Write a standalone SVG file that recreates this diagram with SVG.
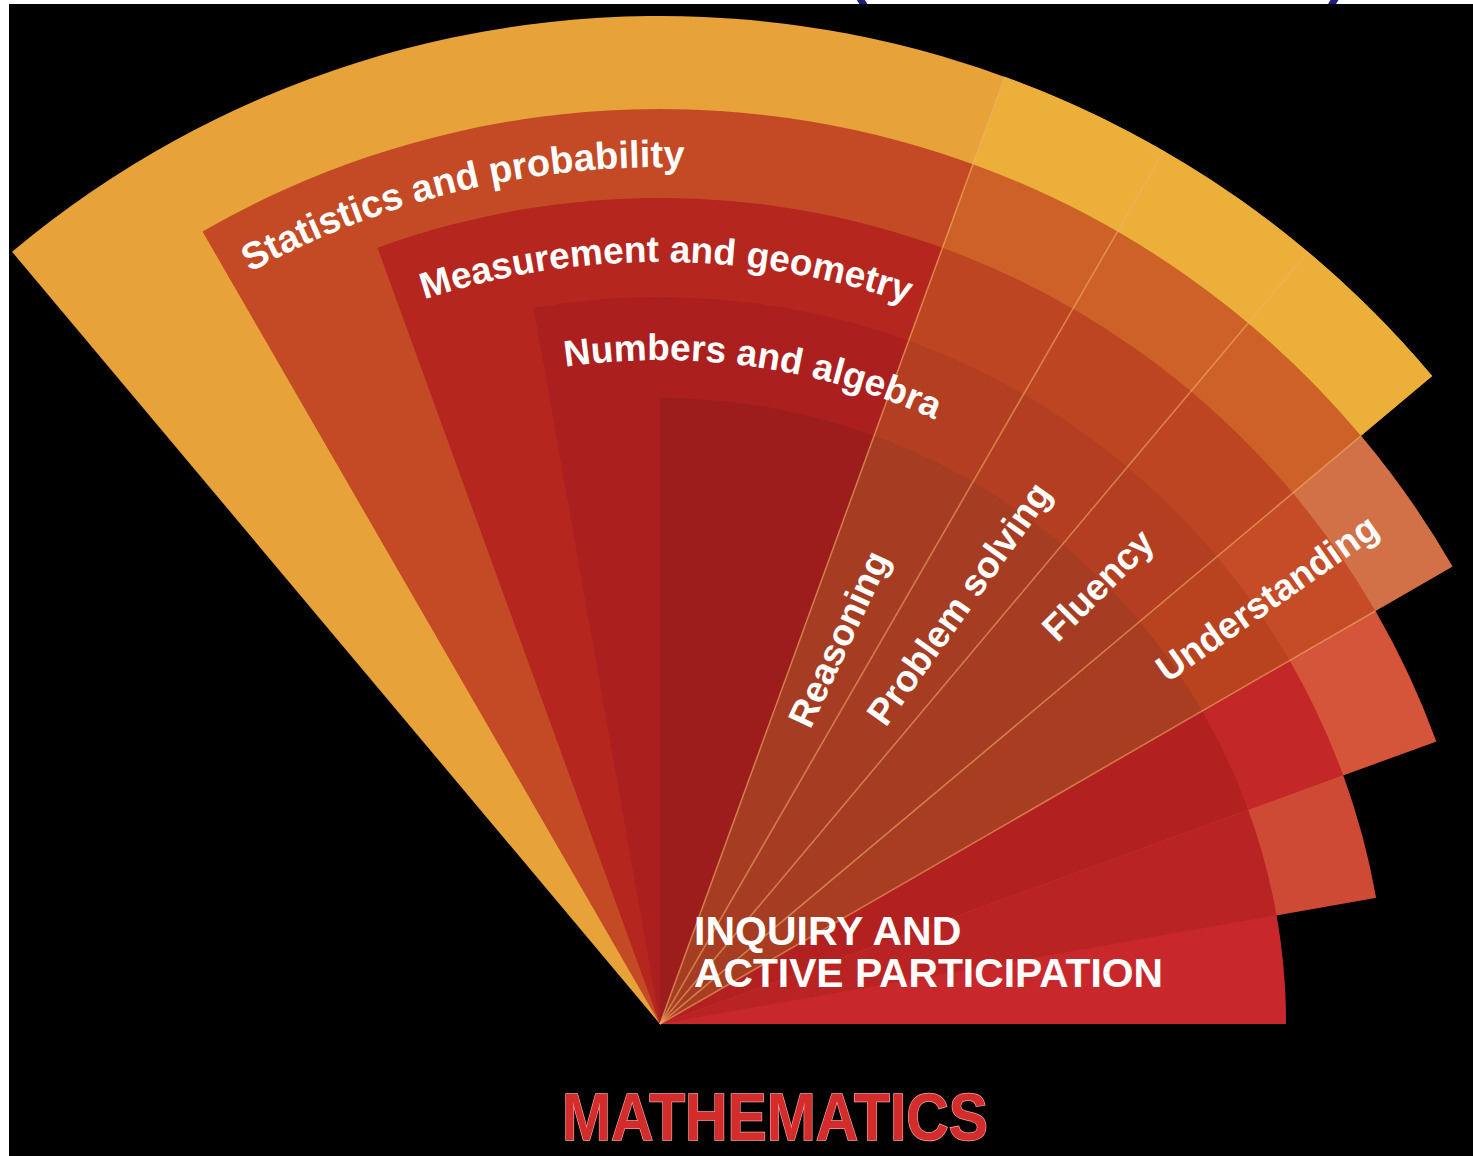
<svg xmlns="http://www.w3.org/2000/svg" width="1473" height="1156" viewBox="0 0 1473 1156">
<style>
.lbl{font-family:"Liberation Sans",Arial,sans-serif;font-weight:bold;fill:#FFFFFF;font-size:37px}
.big{font-family:"Liberation Sans",Arial,sans-serif;font-weight:bold;fill:#FFFFFF;font-size:41px}
.sep{stroke:#F2B36C;stroke-opacity:0.55;stroke-width:1.6;fill:none}
</style>
<defs>
<path id="arcStat" d="M250,272.4 A858,858 0 0 1 1089,281"/>
<path id="arcMeas" d="M424.5,299.3 A762,762 0 0 1 1149.8,440.3"/>
<path id="arcNum" d="M565.3,366.8 A664,664 0 0 1 1168.6,597.2"/>
</defs>
<rect x="0" y="0" width="1473" height="1156" fill="#000000"/>
<rect x="0" y="0" width="9" height="1156" fill="#FFFFFF"/>
<rect x="0" y="0" width="1473" height="4" fill="#FFFFFF"/>
<text x="848" y="-8" font-family="Liberation Sans,Arial,sans-serif" font-size="58" font-weight="bold" fill="#1E1E7E">(</text>
<text x="1328" y="-8" font-family="Liberation Sans,Arial,sans-serif" font-size="58" font-weight="bold" fill="#1E1E7E">)</text>

<g id="content-strands">
<path id="outer-band" d="M660,1024 L12.07,251.83 A1008,1008 0 0 1 1432.17,376.07 Z" fill="#E8A23A"/>
<path id="statistics" d="M660,1024 L202.5,231.58 A915,915 0 0 1 1452.42,566.5 Z" fill="#C44A25"/>
<path id="measurement" d="M660,1024 L377.49,247.82 A826,826 0 0 1 1436.18,741.49 Z" fill="#B5261F"/>
<path id="numbers" d="M660,1024 L533.76,308.04 A727,727 0 0 1 1375.96,897.76 Z" fill="#AC1F1F"/>
<path id="inner-band" d="M660,1024 L660,398 A626,626 0 0 1 1286,1024 Z" fill="#9D1C1C"/>
</g>

<g id="proficiency-strands">
<path d="M660,1024 L1004.76,76.79 A1008,1008 0 0 1 1432.17,376.07 Z" fill="#EBAF3A"/>
<path d="M660,1024 L972.95,164.18 A915,915 0 0 1 1360.93,435.85 Z" fill="#CE6127"/>
<path d="M660,1024 L942.51,247.82 A826,826 0 0 1 1292.75,493.06 Z" fill="#BE4522"/>
<path d="M660,1024 L908.65,340.85 A727,727 0 0 1 1216.91,556.69 Z" fill="#B43E21"/>
<path d="M660,1024 L874.1,435.75 A626,626 0 0 1 1139.54,621.61 Z" fill="#A63C22"/>
</g>
<g id="understanding">
<path d="M660,1024 L1360.93,435.85 A915,915 0 0 1 1452.42,566.5 Z" fill="#D27048"/>
<path d="M660,1024 L1292.75,493.06 A826,826 0 0 1 1375.34,611 Z" fill="#C54C26"/>
<path d="M660,1024 L1216.91,556.69 A727,727 0 0 1 1289.6,660.5 Z" fill="#B9421F"/>
<path d="M660,1024 L1139.54,621.61 A626,626 0 0 1 1202.13,711 Z" fill="#A83D22"/>
</g>
<g id="inquiry">
<path d="M660,1024 L1375.34,611 A826,826 0 0 1 1436.18,741.49 Z" fill="#D45539"/>
<path d="M660,1024 L1289.6,660.5 A727,727 0 0 1 1343.15,775.35 Z" fill="#C42727"/>
<path d="M660,1024 L1202.13,711 A626,626 0 0 1 1248.25,809.9 Z" fill="#B22020"/>
<path d="M660,1024 L1343.15,775.35 A727,727 0 0 1 1375.96,897.76 Z" fill="#CE4A34"/>
<path d="M660,1024 L1248.25,809.9 A626,626 0 0 1 1276.49,915.3 Z" fill="#B92323"/>
<path d="M660,1024 L1276.49,915.3 A626,626 0 0 1 1286,1024 Z" fill="#C8282C"/>
</g>

<g id="separators">
<path class="sep" d="M660,1024 L1004.76,76.79"/>
<path class="sep" d="M660,1024 L1164,151.04"/>
<path class="sep" d="M660,1024 L1307.93,251.83"/>
<path class="sep" d="M660,1024 L1360.93,435.85"/>
<path class="sep" d="M660,1024 L1375.34,611"/>
</g>

<g id="labels">
<text class="lbl" style="font-size:38px"><textPath href="#arcStat">Statistics and probability</textPath></text>
<text class="lbl"><textPath href="#arcMeas">Measurement and geometry</textPath></text>
<text class="lbl"><textPath href="#arcNum">Numbers and algebra</textPath></text>
<text class="lbl" x="990" y="1036" transform="rotate(-65 660 1024)">Reasoning</text>
<text class="lbl" x="1032" y="1036" transform="rotate(-54.5 660 1024)">Problem solving</text>
<text class="lbl" x="1210" y="1036" transform="rotate(-45 660 1024)">Fluency</text>
<text class="lbl" x="1271" y="1036" transform="rotate(-35 660 1024)">Understanding</text>
<text class="big" x="694" y="945">INQUIRY AND</text>
<text class="big" x="694" y="987" textLength="469" lengthAdjust="spacingAndGlyphs">ACTIVE PARTICIPATION</text>
</g>

<text id="title" x="562" y="1140" font-family="Liberation Sans,Arial,sans-serif" font-weight="bold" font-size="67" fill="#D42B2B" stroke="#EFA3A3" stroke-width="1.5" paint-order="stroke" textLength="426" lengthAdjust="spacingAndGlyphs">MATHEMATICS</text>
</svg>
